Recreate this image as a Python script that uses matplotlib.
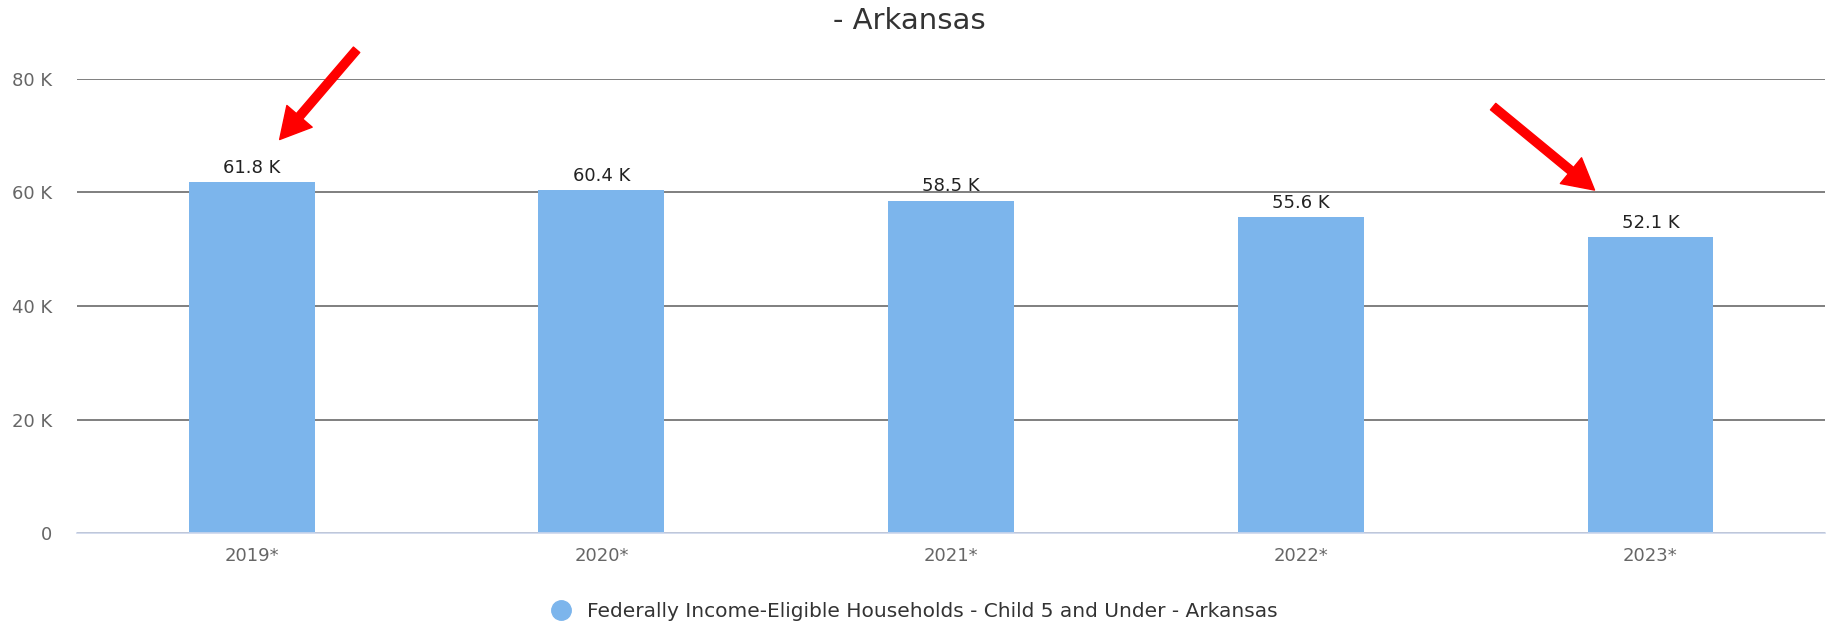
import matplotlib.pyplot as plt
from matplotlib.ticker import FuncFormatter

years = ['2019*', '2020*', '2021*', '2022*', '2023*']
households = [61800, 60400, 58500, 55600, 52100]
series_name = 'Federally Income-Eligible Households - Child 5 and Under - Arkansas'

fig = plt.figure(figsize=(18.29, 6.25), dpi=100)
ax = fig.add_axes([0.042, 0.147, 0.956, 0.727])

x = list(range(len(years)))
bars = ax.bar(x, households, width=0.36, color='#7cb5ec', label=series_name, zorder=3)

for xi, v in zip(x, households):
    ax.annotate(f'{v/1000:.1f} K', (xi, v), xytext=(0, 4), textcoords='offset points',
                ha='center', va='bottom', fontsize=13, color='#222222', zorder=4)

ax.set_xlim(-0.5, 4.5)
ax.set_ylim(0, 80000)
ax.set_yticks([0, 20000, 40000, 60000, 80000])
ax.yaxis.set_major_formatter(FuncFormatter(lambda v, p: '0' if v == 0 else f'{int(v/1000)} K'))
ax.set_xticks(x)
ax.set_xticklabels(years)
ax.tick_params(axis='both', length=0, labelsize=13, colors='#666666')
ax.tick_params(axis='y', pad=18)
ax.tick_params(axis='x', pad=10)

ax.grid(axis='y', color='#6a6a6a', linewidth=1.2, zorder=0)
for s in ['top', 'right', 'left']:
    ax.spines[s].set_visible(False)
ax.spines['bottom'].set_color('#ccd6eb')
ax.spines['bottom'].set_linewidth(1.2)
ax.spines['bottom'].set_zorder(5)

fig.text(0.497, 0.967, '- Arkansas', ha='center', va='center', fontsize=21, color='#333333')

# red arrows pointing at first and last bar labels
arrow = dict(facecolor='red', edgecolor='red', width=6, headwidth=24, headlength=22)
ax.annotate('', xy=(0.08, 69300), xytext=(0.30, 85100), arrowprops=arrow, annotation_clip=False)
ax.annotate('', xy=(3.84, 60400), xytext=(3.55, 75100), arrowprops=arrow, annotation_clip=False)

fig.legend(handles=[plt.Line2D([], [], marker='o', linestyle='', markersize=14,
                               color='#7cb5ec', label=series_name)],
           loc='center', bbox_to_anchor=(0.497, 0.022), frameon=False, fontsize=14.5,
           labelcolor='#333333', handletextpad=0.3)

fig.savefig('out.png', dpi=100)
